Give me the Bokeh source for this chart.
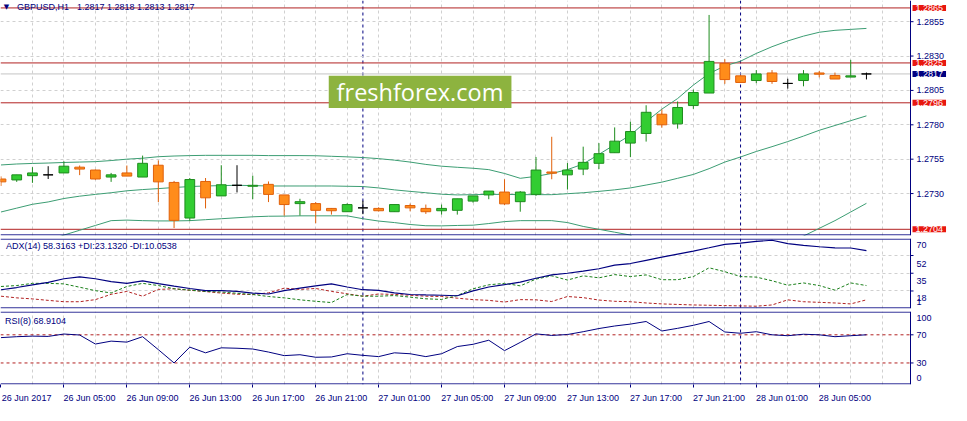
from bokeh.plotting import figure
from bokeh.layouts import column
from bokeh.models import (ColumnDataSource, Range1d, FixedTicker, Grid, Span, Label,
                          BoxAnnotation)
from bokeh.embed import file_html
from bokeh.resources import INLINE

# GBPUSD H1, 26 Jun 2017 01:00 .. 28 Jun 2017 08:00 (one bar per hour)
opens = [1.27406, 1.27399, 1.27430, 1.27436, 1.27450, 1.27492, 1.27471, 1.27420, 1.27450, 1.27420,
         1.27506, 1.27381, 1.27122, 1.27388, 1.27283, 1.27360, 1.27353, 1.27367, 1.27290, 1.27227,
         1.27227, 1.27192, 1.27168, 1.27196, 1.27192, 1.27168, 1.27213, 1.27192, 1.27175, 1.27178,
         1.27245, 1.27290, 1.27311, 1.27241, 1.27294, 1.27457, 1.27436, 1.27478, 1.27520, 1.27597,
         1.27667, 1.27737, 1.27877, 1.27807, 1.27940, 1.28031, 1.28247, 1.28156, 1.28122, 1.28177,
         1.28101, 1.28122, 1.28177, 1.28159, 1.28147, 1.28170]
highs = [1.27425, 1.27436, 1.27492, 1.27499, 1.27534, 1.27504, 1.27475, 1.27450, 1.27504, 1.27576,
         1.27541, 1.27392, 1.27413, 1.27413, 1.27506, 1.27506, 1.27430, 1.27388, 1.27290, 1.27262,
         1.27238, 1.27195, 1.27229, 1.27248, 1.27200, 1.27220, 1.27227, 1.27220, 1.27220, 1.27262,
         1.27283, 1.27318, 1.27404, 1.27318, 1.27566, 1.27713, 1.27522, 1.27641, 1.27667, 1.27781,
         1.27823, 1.27942, 1.27912, 1.27970, 1.28056, 1.28599, 1.28277, 1.28163, 1.28198, 1.28198,
         1.28135, 1.28198, 1.28191, 1.28180, 1.28272, 1.28180]
lows = [1.27355, 1.27385, 1.27378, 1.27406, 1.27450, 1.27434, 1.27400, 1.27385, 1.27427, 1.27420,
        1.27238, 1.27049, 1.27101, 1.27192, 1.27283, 1.27308, 1.27259, 1.27238, 1.27140, 1.27140,
        1.27084, 1.27147, 1.27168, 1.27150, 1.27170, 1.27168, 1.27171, 1.27152, 1.27147, 1.27147,
        1.27234, 1.27259, 1.27217, 1.27168, 1.27283, 1.27404, 1.27329, 1.27434, 1.27478, 1.27597,
        1.27566, 1.27678, 1.27779, 1.27772, 1.27916, 1.28031, 1.28098, 1.28108, 1.28103, 1.28098,
        1.28063, 1.28080, 1.28145, 1.28133, 1.28147, 1.28130]
closes = [1.27385, 1.27436, 1.27450, 1.27436, 1.27499, 1.27478, 1.27406, 1.27436, 1.27427, 1.27520,
          1.27385, 1.27105, 1.27402, 1.27269, 1.27364, 1.27360, 1.27360, 1.27294, 1.27220, 1.27241,
          1.27178, 1.27175, 1.27220, 1.27196, 1.27175, 1.27220, 1.27196, 1.27168, 1.27192, 1.27262,
          1.27283, 1.27318, 1.27225, 1.27311, 1.27471, 1.27448, 1.27471, 1.27527, 1.27590, 1.27681,
          1.27751, 1.27891, 1.27800, 1.27926, 1.28035, 1.28261, 1.28129, 1.28108, 1.28170, 1.28115,
          1.28101, 1.28170, 1.28168, 1.28133, 1.28156, 1.28170]

bb_upper = [1.27508, 1.27515, 1.27519, 1.27522, 1.27526, 1.27529, 1.27532, 1.27540, 1.27550, 1.27557,
            1.27568, 1.27573, 1.27576, 1.27578, 1.27578, 1.27578, 1.27578, 1.27576, 1.27576, 1.27576,
            1.27575, 1.27571, 1.27567, 1.27562, 1.27554, 1.27543, 1.27529, 1.27512, 1.27499, 1.27491,
            1.27484, 1.27474, 1.27446, 1.27411, 1.27425, 1.27446, 1.27474, 1.27515, 1.27585, 1.27655,
            1.27725, 1.27823, 1.27914, 1.27991, 1.28089, 1.28173, 1.28228, 1.28263, 1.28319, 1.28368,
            1.28410, 1.28445, 1.28473, 1.28487, 1.28494, 1.28501]
bb_middle = [1.27166, 1.27194, 1.27222, 1.27239, 1.27264, 1.27281, 1.27294, 1.27306, 1.27320, 1.27329,
             1.27336, 1.27344, 1.27351, 1.27355, 1.27358, 1.27360, 1.27358, 1.27355, 1.27355, 1.27355,
             1.27355, 1.27355, 1.27353, 1.27351, 1.27341, 1.27327, 1.27316, 1.27306, 1.27295, 1.27290,
             1.27292, 1.27294, 1.27294, 1.27292, 1.27292, 1.27292, 1.27299, 1.27306, 1.27316, 1.27327,
             1.27341, 1.27362, 1.27383, 1.27411, 1.27439, 1.27481, 1.27529, 1.27566, 1.27606, 1.27641,
             1.27678, 1.27718, 1.27760, 1.27795, 1.27830, 1.27865]
bb_lower = [1.26823, 1.26872, 1.26925, 1.26956, 1.26998, 1.27033, 1.27068, 1.27103, 1.27107, 1.27103,
            1.27101, 1.27101, 1.27103, 1.27110, 1.27117, 1.27124, 1.27131, 1.27135, 1.27136, 1.27138,
            1.27138, 1.27138, 1.27138, 1.27117, 1.27100, 1.27089, 1.27075, 1.27066, 1.27065, 1.27068,
            1.27070, 1.27082, 1.27096, 1.27103, 1.27103, 1.27103, 1.27089, 1.27061, 1.27040, 1.27019,
            1.26998, 1.26900, 1.26851, 1.26830, 1.26789, 1.26789, 1.26830, 1.26872, 1.26893, 1.26914,
            1.26949, 1.26991, 1.27047, 1.27103, 1.27166, 1.27229]

adx = [19.2, 21.3, 23.9, 26.3, 29.7, 31.6, 29.7, 26.9, 25.3, 27.6,
       25.1, 22.7, 20.4, 18.3, 18.3, 17.6, 16.0, 15.1, 18.3, 20.7,
       22.9, 24.8, 21.8, 19.2, 18.6, 16.2, 14.6, 14.2, 13.9, 13.4,
       18.1, 21.8, 24.1, 26.5, 30.2, 33.4, 35.0, 37.1, 39.3, 42.7,
       44.3, 47.4, 50.4, 53.4, 56.2, 59.4, 62.7, 63.8, 65.5, 66.6,
       63.4, 61.8, 60.4, 59.4, 59.2, 56.6]
plus_di = [22.3, 23.2, 25.3, 25.3, 24.8, 21.6, 18.3, 16.1, 22.3, 25.3,
           23.2, 20.1, 18.8, 17.6, 17.0, 15.8, 14.6, 12.7, 11.4, 9.5,
           8.1, 6.9, 14.6, 13.0, 13.0, 13.6, 12.1, 10.5, 9.9, 13.6,
           20.1, 23.9, 25.3, 22.9, 29.4, 32.5, 28.5, 32.5, 30.6, 33.7,
           31.8, 33.4, 28.8, 28.8, 31.8, 40.2, 36.5, 31.8, 31.3, 27.8,
           23.5, 25.7, 23.2, 18.8, 25.7, 23.2]
minus_di = [13.0, 11.4, 10.4, 9.0, 7.7, 7.7, 9.7, 14.8, 17.6, 13.0,
            19.5, 20.1, 18.7, 17.4, 16.0, 14.9, 14.6, 16.2, 20.7, 19.5,
            20.4, 17.6, 15.3, 13.0, 15.1, 14.7, 13.9, 13.0, 12.7, 11.1,
            9.7, 9.0, 7.4, 9.7, 9.5, 7.9, 12.7, 11.6, 9.3, 8.1,
            7.7, 6.5, 5.6, 5.1, 4.6, 4.3, 4.0, 3.7, 3.4, 4.6,
            9.5, 7.7, 7.1, 6.5, 5.6, 9.5]

rsi = [66.0, 67.3, 68.1, 67.7, 71.1, 69.7, 56.9, 61.0, 59.6, 67.3,
       48.9, 30.0, 52.5, 44.4, 51.5, 50.9, 49.8, 45.5, 40.4, 41.7,
       38.1, 38.5, 43.1, 40.8, 39.0, 44.4, 43.1, 39.0, 43.1, 53.3,
       56.5, 62.3, 47.5, 59.2, 71.3, 69.1, 70.4, 74.4, 78.9, 82.5,
       85.2, 88.9, 75.4, 79.2, 83.5, 88.9, 74.0, 72.2, 74.4, 70.0,
       68.7, 70.8, 70.0, 67.3, 68.7, 70.0]

levels = [1.2865, 1.2825, 1.2796, 1.2704]
last_price = 1.2817
price_ticks = [1.2730, 1.2755, 1.2780, 1.2805, 1.2830, 1.2855]
adx_ticks = [52, 35, 18]
rsi_levels = [70, 30]
day_starts = [23, 47]
time_labels = ["26 Jun 2017", "26 Jun 05:00", "26 Jun 09:00", "26 Jun 13:00", "26 Jun 17:00",
               "26 Jun 21:00", "27 Jun 01:00", "27 Jun 05:00", "27 Jun 09:00", "27 Jun 13:00",
               "27 Jun 17:00", "27 Jun 21:00", "28 Jun 01:00", "28 Jun 05:00"]

symbol = "GBPUSD,H1"
last_bar = "1.2817 1.2818 1.2813 1.2817"
adx_title = "ADX(14) 58.3163 +DI:23.1320 -DI:10.0538"
rsi_title = "RSI(8) 68.9104"

NAVY = "#000080"
RED = "#b22222"
BOX_RED = "#e8170f"
GRID = "#d0d0d0"
FONT = "Liberation Sans"

bars = list(range(len(opens)))
fills, edges = [], []
for o, c in zip(opens, closes):
    if c > o:
        fills.append("#32cd32"); edges.append("#1e8c1e")
    elif c < o:
        fills.append("#ff8c1a"); edges.append("#e0600a")
    else:
        fills.append("black"); edges.append("black")

src = ColumnDataSource(dict(x=bars, high=highs, low=lows,
                            top=[max(o, c) for o, c in zip(opens, closes)],
                            bottom=[min(o, c) for o, c in zip(opens, closes)],
                            fill=fills, edge=edges))

# chart area in bar units; the price scale column sits right of X_AXIS inside each frame
PLOT_W, SCALE_W = 951, 41
X0, X_AXIS = -0.03, 57.8
PX = (X_AXIS - X0) / (PLOT_W - SCALE_W)      # bar units per pixel
x_range = Range1d(X0, X0 + PLOT_W * PX)


def make_panel(height, y_range, top, bottom, x_axis=None):
    p = figure(width=PLOT_W, height=height, x_range=x_range, y_range=y_range,
               x_axis_location=x_axis, y_axis_location=None,
               toolbar_location=None, output_backend="svg",
               min_border_left=0, min_border_right=0,
               min_border_top=top, min_border_bottom=bottom)
    p.outline_line_color = None
    p.grid.visible = False
    p.add_layout(Grid(dimension=0, ticker=FixedTicker(ticks=list(range(2, 58, 2))),
                      grid_line_color=GRID, grid_line_dash="3 3"))
    for b in day_starts:
        p.add_layout(Span(location=b, dimension="height", line_color=NAVY,
                          line_dash="3 3", level="underlay"))
    return p


def text_label(p, x, y, text, **kw):
    p.add_layout(Label(x=x, y=y, text=text, text_color=kw.pop("text_color", NAVY),
                       text_font=FONT, text_font_size="9px", text_align="left",
                       text_baseline="middle", **kw))


def draw_scale(p, y_range, marks, label_at, labels, borders):
    frame_h = p.height - p.min_border_top - p.min_border_bottom
    dy = (y_range.end - y_range.start) / frame_h
    p.quad(left=X_AXIS, right=x_range.end + 1, bottom=y_range.start - 10 * dy,
           top=y_range.end + 10 * dy, fill_color="white", line_color=None)
    p.segment(x0=X_AXIS, y0=y_range.start, x1=X_AXIS, y1=y_range.end, line_color=NAVY)
    for side in borders:
        yb = y_range.end - 0.6 * dy if side == "top" else y_range.start + 0.6 * dy
        p.segment(x0=X0, y0=yb, x1=X_AXIS, y1=yb, line_color=NAVY)
    p.segment(x0=[X_AXIS] * len(marks), y0=marks, x1=[X_AXIS + 3 * PX] * len(marks),
              y1=marks, line_color=NAVY)
    for y, t in zip(label_at, labels):
        # a lone digit went missing in the page, so pad it with a non-breaking space
        if len(t) == 1:
            t = t + "\u00a0"
        text_label(p, X_AXIS + 6 * PX, y, t)


# main price window
y_main = Range1d(1.26995, 1.28704)
p1 = make_panel(236, y_main, 0, 1)
p1.add_layout(Grid(dimension=1, ticker=FixedTicker(ticks=price_ticks),
                   grid_line_color=GRID, grid_line_dash="3 3"))
p1.add_layout(Span(location=last_price, dimension="width", line_color="#c4c4c4", level="underlay"))
for lv in levels:
    p1.add_layout(Span(location=lv, dimension="width", line_color=RED, level="underlay"))

for band in (bb_upper, bb_middle, bb_lower):
    p1.line(bars, band, line_color="#3c9d73", line_width=1)

p1.segment(x0="x", y0="high", x1="x", y1="low", line_color="edge", source=src)
p1.vbar(x="x", width=0.62, top="top", bottom="bottom", fill_color="fill",
        line_color="edge", source=src)

draw_scale(p1, y_main, price_ticks, price_ticks, ["%.4f" % t for t in price_ticks], ["bottom"])

for lv, col in [(levels[0], BOX_RED), (levels[1], BOX_RED), (last_price, NAVY),
                (levels[2], BOX_RED), (levels[3], BOX_RED)]:
    text_label(p1, X_AXIS + 2 * PX, lv, "%.4f" % lv, text_color="white",
               background_fill_color=col, padding=dict(left=3, right=3, top=0, bottom=0))

p1.add_layout(BoxAnnotation(left=20.83, right=32.44, top=1.28156, bottom=1.27923,
                            fill_color="#8db33f", fill_alpha=1.0, line_color=None))
p1.add_layout(Label(x=26.63, y=1.28042, text="freshforex.com", text_color="white",
                    text_font="Open Sans", text_font_size="23.5px",
                    text_align="center", text_baseline="middle"))

p1.add_layout(Label(x=0.35, y=1.28657, text="\u25bc", text_color=NAVY,
                    text_font="DejaVu Sans", text_font_size="7px",
                    text_align="center", text_baseline="middle"))
text_label(p1, 16 * PX, 1.28655, symbol)
text_label(p1, 76 * PX, 1.28655, last_bar)

# ADX window (MetaTrader prints the scale values just under their grid lines)
y_adx = Range1d(1.2, 68.3)
p2 = make_panel(73, y_adx, 2, 1)
p2.add_layout(Grid(dimension=1, ticker=FixedTicker(ticks=adx_ticks),
                   grid_line_color=GRID, grid_line_dash="3 3"))
p2.line(bars, minus_di, line_color=RED, line_dash="3 2", line_width=1)
p2.line(bars, plus_di, line_color="#1a7f1a", line_dash="3 2", line_width=1)
p2.line(bars, adx, line_color=NAVY, line_width=1.2)
draw_scale(p2, y_adx, adx_ticks, [62.2, 44.3, 27.2, 10.8, 7.1],
           ["70", "52", "35", "18", "1"], ["top", "bottom"])
text_label(p2, 5 * PX, 61.3, adx_title)

# RSI window with the time axis
y_rsi = Range1d(-0.6, 103.1)
p3 = make_panel(96, y_rsi, 2, 20, x_axis="below")
for lv in rsi_levels:
    p3.add_layout(Span(location=lv, dimension="width", line_color=RED,
                       line_dash="3 3", level="underlay"))
p3.line(bars, rsi, line_color=NAVY, line_width=1)
draw_scale(p3, y_rsi, rsi_levels, [94.2, 70, 30, 8.0], ["100", "70", "30", "0"],
           ["top", "bottom"])
text_label(p3, 4 * PX, 89.3, rsi_title)

label_starts = [4 * k for k in range(len(time_labels))]
label_at = [s + 1.63 for s in label_starts]
xa = p3.xaxis[0]
xa.ticker = FixedTicker(ticks=label_at, minor_ticks=label_starts)
xa.major_label_overrides = dict(zip(label_at, time_labels))
xa.bounds = (X0, X_AXIS)
xa.axis_line_color = None
xa.major_tick_line_color = None
xa.major_tick_out = 0
xa.minor_tick_line_color = NAVY
xa.minor_tick_in = 0
xa.minor_tick_out = 3
xa.major_label_standoff = 5
xa.major_label_text_color = NAVY
xa.major_label_text_font = FONT
xa.major_label_text_font_size = "9px"

layout = column(p1, p2, p3, spacing=0)
open("out.html", "w").write(file_html(layout, INLINE))
